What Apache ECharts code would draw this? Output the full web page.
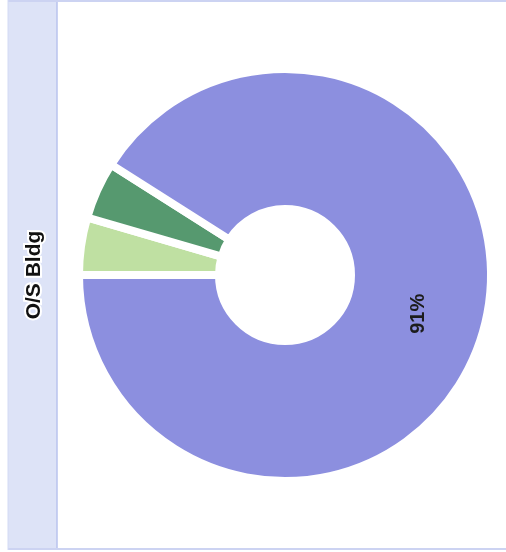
<!DOCTYPE html>
<html>
<head>
<meta charset="utf-8">
<script src="https://cdn.jsdelivr.net/npm/echarts@6/dist/echarts.min.js"></script>
<style>
  html, body { margin: 0; padding: 0; background: #ffffff; }
  #chart { width: 506px; height: 552px; }
</style>
</head>
<body>
<div id="chart"></div>
<script>
// Building share breakdown, drawn as a donut turned on its side
const title = 'O/S Bldg';
const categories = ['Segment A', 'Segment B', 'Segment C'];
const values = [4.5, 4.5, 91];
const colors = ['#bfe0a2', '#56996f', '#8c8fdf'];
const shownLabels = [false, false, true];

const chart = echarts.init(document.getElementById('chart'), null, { renderer: 'canvas' });

const pieData = categories.map((name, i) => ({
  name: name,
  value: values[i],
  itemStyle: { color: colors[i] },
  label: { show: shownLabels[i] }
}));

chart.setOption({
  animation: false,
  backgroundColor: '#ffffff',
  graphic: [
    // header strip running down the left side
    { type: 'rect', shape: { x: 8, y: 0, width: 49, height: 550 },
      style: { fill: '#dde3f7' }, z: 0 },
    { type: 'line', shape: { x1: 57, y1: 0, x2: 57, y2: 550 },
      style: { stroke: '#b9c3ee', lineWidth: 1.5 }, z: 1 },
    { type: 'line', shape: { x1: 8, y1: 1, x2: 506, y2: 1 },
      style: { stroke: '#ccd3f2', lineWidth: 2 }, z: 1 },
    { type: 'line', shape: { x1: 8, y1: 549, x2: 506, y2: 549 },
      style: { stroke: '#ccd3f2', lineWidth: 2 }, z: 1 },
    { type: 'line', shape: { x1: 8, y1: 0, x2: 8, y2: 550 },
      style: { stroke: '#d3daf4', lineWidth: 1 }, z: 1 },
    { type: 'text', x: 34, y: 275, rotation: Math.PI / 2, z: 5,
      style: {
        text: title,
        fill: '#111111',
        font: 'bold 21px "Liberation Sans", Arial, sans-serif',
        align: 'center',
        verticalAlign: 'middle',
        stroke: '#ffffff',
        lineWidth: 4
      } }
  ],
  series: [{
    type: 'pie',
    center: [285, 275],
    radius: [66, 206],
    startAngle: 180,
    clockwise: true,
    avoidLabelOverlap: false,
    itemStyle: { borderColor: '#ffffff', borderWidth: 8 },
    label: {
      position: 'inside',
      rotate: 90,
      formatter: '{c}%',
      color: '#1c1c1c',
      fontSize: 20,
      fontWeight: 'bold',
      fontFamily: '"Liberation Sans", Arial, sans-serif'
    },
    labelLine: { show: false },
    emphasis: { disabled: true },
    data: pieData
  }]
});
</script>
</body>
</html>
